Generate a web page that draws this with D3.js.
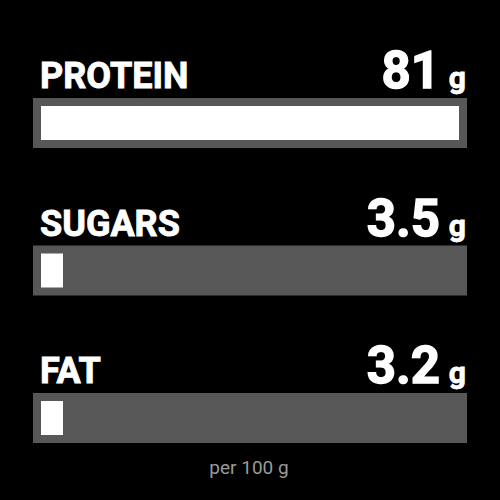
<!DOCTYPE html>
<html>
<head>
<meta charset="utf-8">
<script src="https://cdn.jsdelivr.net/npm/d3@7"></script>
<style>
  html, body { margin: 0; padding: 0; background: #000; }
  svg { display: block; }
</style>
</head>
<body>
<svg></svg>
<script>
// nutrition values per 100 g
const nutrients = ['PROTEIN', 'SUGARS', 'FAT'];
const grams = [81, 3.5, 3.2];
const valueLabels = ['81', '3.5', '3.2'];
const unit = 'g';
const footnote = 'per 100 g';

const width = 500, height = 500;
const trackX = 33, trackW = 434, trackH = 50, pad = 8, minBar = 22;

const svg = d3.select('svg')
  .attr('width', width)
  .attr('height', height);

svg.append('rect')
  .attr('width', width)
  .attr('height', height)
  .attr('fill', '#000');

// row positions (top of each gray track)
const yScale = d3.scalePoint()
  .domain(nutrients)
  .range([98, 393]);

// bar length inside the track
const xScale = d3.scaleLinear()
  .domain([0, d3.max(grams)])
  .range([0, trackW - pad * 2]);

const rows = svg.selectAll('g.row')
  .data(nutrients)
  .enter()
  .append('g')
  .attr('class', 'row')
  .attr('transform', d => `translate(0,${yScale(d)})`);

// gray track
rows.append('rect')
  .attr('x', trackX)
  .attr('y', 0)
  .attr('width', trackW)
  .attr('height', trackH)
  .attr('fill', '#575757');

// white fill
rows.append('rect')
  .attr('x', trackX + pad)
  .attr('y', pad)
  .attr('width', (d, i) => Math.max(minBar, xScale(grams[i])))
  .attr('height', trackH - pad * 2)
  .attr('fill', '#fff');

// nutrient name
rows.append('text')
  .text(d => d)
  .attr('x', 40)
  .attr('y', -10)
  .attr('fill', '#fff')
  .attr('stroke', '#fff')
  .attr('stroke-width', 0.9)
  .style('font-family', 'Roboto, sans-serif')
  .style('font-weight', 700)
  .style('font-size', '36px');

// value
rows.append('text')
  .text((d, i) => valueLabels[i])
  .attr('x', 440)
  .attr('y', -10)
  .attr('text-anchor', 'end')
  .attr('fill', '#fff')
  .attr('stroke', '#fff')
  .attr('stroke-width', 1.4)
  .style('font-family', 'Roboto, sans-serif')
  .style('font-weight', 700)
  .style('font-size', '51px');

// unit
rows.append('text')
  .text(unit)
  .attr('x', 466)
  .attr('y', -10)
  .attr('text-anchor', 'end')
  .attr('fill', '#fff')
  .attr('stroke', '#fff')
  .attr('stroke-width', 0.8)
  .style('font-family', 'Roboto, sans-serif')
  .style('font-weight', 700)
  .style('font-size', '30px');

svg.append('text')
  .text(footnote)
  .attr('x', 249)
  .attr('y', 474)
  .attr('text-anchor', 'middle')
  .attr('fill', '#9a9a9a')
  .style('font-family', 'Roboto, sans-serif')
  .style('font-size', '19px');
</script>
</body>
</html>
